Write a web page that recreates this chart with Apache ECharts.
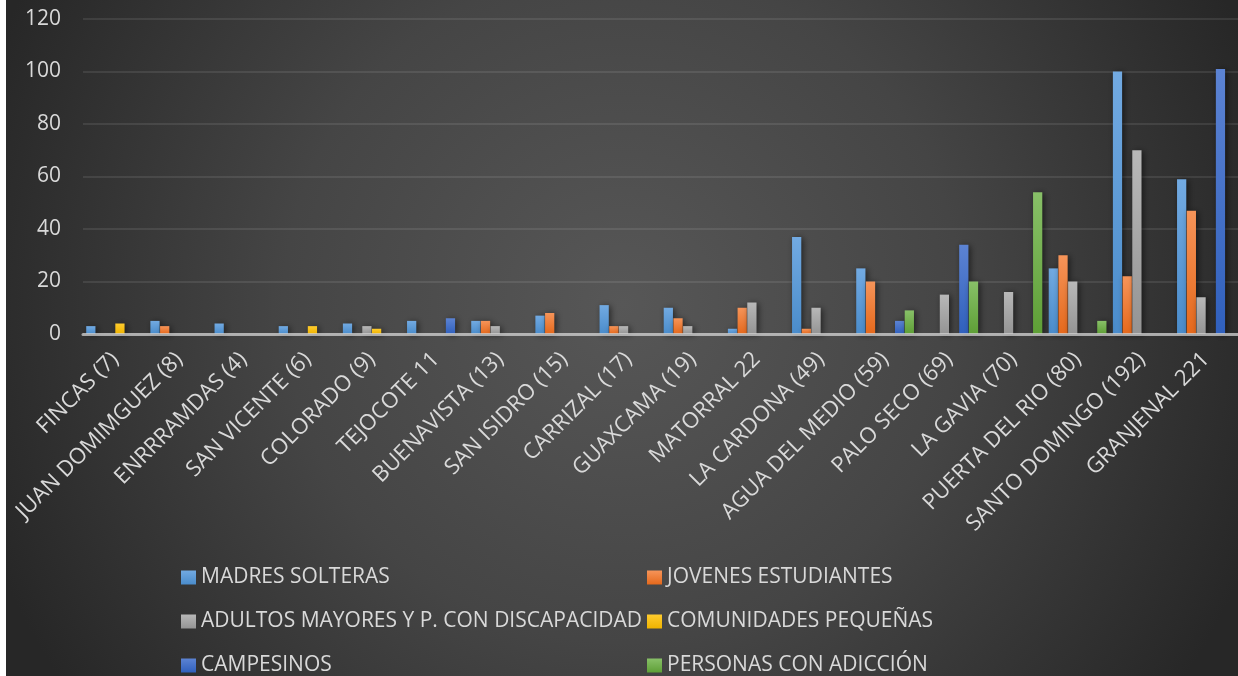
<!DOCTYPE html>
<html>
<head>
<meta charset="utf-8">
<script src="https://cdn.jsdelivr.net/npm/echarts@6/dist/echarts.min.js"></script>
<style>
html,body{margin:0;padding:0;background:#ffffff;width:1238px;height:676px;overflow:hidden;}
#chart{position:absolute;left:6px;top:0;width:1232px;height:676px;}
</style>
</head>
<body>
<div id="chart"></div>
<script>
const categories = ["FINCAS (7)", "JUAN DOMIMGUEZ (8)", "ENRRRAMDAS (4)", "SAN VICENTE (6)", "COLORADO (9)", "TEJOCOTE 11", "BUENAVISTA (13)", "SAN ISIDRO (15)", "CARRIZAL (17)", "GUAXCAMA (19)", "MATORRAL 22", "LA CARDONA (49)", "AGUA DEL MEDIO (59)", "PALO SECO (69)", "LA GAVIA (70)", "PUERTA DEL RIO (80)", "SANTO DOMINGO (192)", "GRANJENAL 221"];
const madresSolteras =      [3, 5, 4, 3, 4, 5, 5, 7, 11, 10, 2, 37, 25, null, null, 25, 100, 59];
const jovenesEstudiantes =  [null, 3, null, null, null, null, 5, 8, 3, 6, 10, 2, 20, null, null, 30, 22, 47];
const adultosMayores =      [null, null, null, null, 3, null, 3, null, 3, 3, 12, 10, null, 15, 16, 20, 70, 14];
const comunidadesPequenas = [4, null, null, 3, 2, null, null, null, null, null, null, null, null, null, null, null, null, null];
const campesinos =          [null, null, null, null, null, 6, null, null, null, null, null, null, 5, 34, null, null, null, 101];
const personasAdiccion =    [null, null, null, null, null, null, null, null, null, null, null, null, 9, 20, 54, 5, null, null];
const yTicks = {min: 0, max: 120, interval: 20};

const seriesNames = ["MADRES SOLTERAS", "JOVENES ESTUDIANTES", "ADULTOS MAYORES Y P. CON DISCAPACIDAD", "COMUNIDADES PEQUEÑAS", "CAMPESINOS", "PERSONAS CON ADICCIÓN"];
const seriesData = [madresSolteras, jovenesEstudiantes, adultosMayores, comunidadesPequenas, campesinos, personasAdiccion];
const gradStops = [
  ['#72aae2', '#4a8ccb'],
  ['#f69459', '#e5691c'],
  ['#b8b8b8', '#949494'],
  ['#ffcc2e', '#efb300'],
  ['#5c83d3', '#3060bd'],
  ['#88c068', '#5e9f36']
];
function grad(c){
  return {type:'linear', x:0, y:0, x2:0, y2:1, colorStops:[{offset:0,color:c[0]},{offset:1,color:c[1]}]};
}

const FONT = 'Open Sans';
// legend placement: column (left, in div px) and row (top) for each series
const legendCols = [175, 641, 175, 641, 175, 641];
const legendRows = [567, 567, 611, 611, 655, 655];

const chart = echarts.init(document.getElementById('chart'), null, {renderer:'canvas'});
const option = {
  animation: false,
  backgroundColor: {type:'radial', x:0.5, y:0.45, r:1.0, colorStops:[{offset:0,color:'#575757'},{offset:0.5,color:'#454545'},{offset:1,color:'#272727'}]},
  textStyle: {fontFamily: FONT},
  grid: {left: 77, top: 19, bottom: 342, width: 1160, containLabel: false},
  legend: seriesNames.map((n, i) => ({
    orient: 'horizontal', left: legendCols[i], top: legendRows[i], padding: 0,
    itemWidth: 15, itemHeight: 14, icon: 'rect', data: [n],
    textStyle: {color:'#d9d9d9', fontSize: 21, fontFamily: FONT}
  })),
  xAxis: {
    type: 'category', data: categories, z: 10,
    axisLine: {show: true, lineStyle: {color: 'rgba(210,210,210,0.75)', width: 3}},
    axisTick: {show: false},
    axisLabel: {rotate: 45, interval: 0, margin: 22, color: '#d9d9d9', fontSize: 22, fontFamily: FONT},
    splitLine: {show: false}
  },
  yAxis: {
    type: 'value', min: yTicks.min, max: yTicks.max, interval: yTicks.interval,
    axisLine: {show: false}, axisTick: {show: false},
    axisLabel: {color: '#d9d9d9', fontSize: 21, margin: 22, fontFamily: FONT},
    splitLine: {lineStyle: {color: 'rgba(255,255,255,0.09)', width: 2}}
  },
  series: seriesNames.map((n, i) => ({
    name: n, type: 'bar', data: seriesData[i],
    barCategoryGap: '10%', barGap: '5%',
    itemStyle: {color: grad(gradStops[i]), shadowColor: 'rgba(0,0,0,0.55)', shadowBlur: 6, shadowOffsetX: 2, shadowOffsetY: 1}
  }))
};
chart.setOption(option);
</script>
</body>
</html>
